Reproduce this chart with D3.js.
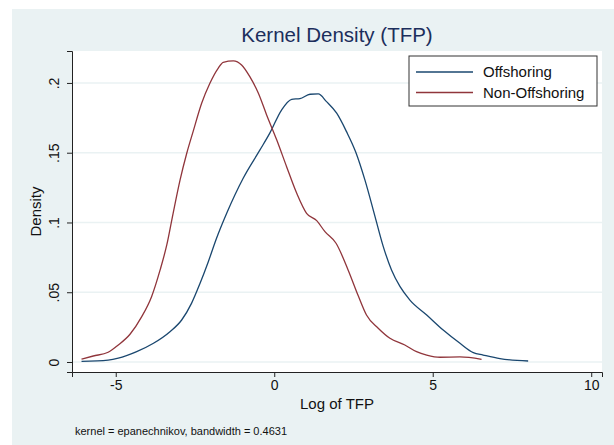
<!DOCTYPE html>
<meta charset="utf-8">
<style>
body { margin: 0; background: #fff; }
text { font-family: "Liberation Sans", Arial, sans-serif; }
</style>
<svg width="614" height="445"></svg>
<script src="https://d3js.org/d3.v7.min.js"></script>
<script>

// Offshoring density (x = log TFP, y = density)
var offX = [-6.08, -5.24, -4.92, -4.34, -3.81, -3.29, -2.92, -2.61, -2.34, -2.08, -1.82, -1.5, -0.98, -0.45, -0.14, 0.23, 0.55, 0.81, 1.13, 1.39, 1.65, 1.97, 2.28, 2.57, 2.86, 3.18, 3.44, 3.70, 3.97, 4.28, 4.81, 5.33, 5.86, 6.28, 6.59, 7.12, 8.01];
var offY = [0.0005, 0.0014, 0.0027, 0.0074, 0.0134, 0.0217, 0.0301, 0.042, 0.0564, 0.0719, 0.0887, 0.1066, 0.1317, 0.152, 0.164, 0.1806, 0.1883, 0.1888, 0.1919, 0.1921, 0.1866, 0.1783, 0.1651, 0.1505, 0.1305, 0.1042, 0.0827, 0.066, 0.054, 0.0444, 0.0337, 0.0229, 0.0134, 0.0067, 0.005, 0.0024, 0.0007];

// Non-Offshoring density
var nonX = [-6.08, -5.71, -5.24, -4.92, -4.55, -4.18, -3.87, -3.6, -3.39, -3.19, -2.97, -2.76, -2.56, -2.29, -2.03, -1.77, -1.61, -1.29, -1.03, -0.77, -0.5, -0.24, 0.08, 0.39, 0.71, 1.02, 1.34, 1.6, 1.95, 2.33, 2.65, 2.91, 3.28, 3.65, 4.12, 4.49, 4.81, 5.23, 5.86, 6.54];
var nonY = [0.0021, 0.0043, 0.007, 0.0122, 0.0199, 0.0325, 0.0468, 0.066, 0.0839, 0.1066, 0.1305, 0.1496, 0.1651, 0.1854, 0.1998, 0.2105, 0.2148, 0.2158, 0.2129, 0.2045, 0.1926, 0.1771, 0.1591, 0.14, 0.1209, 0.1066, 0.1013, 0.0934, 0.0851, 0.066, 0.0475, 0.0337, 0.0242, 0.017, 0.0122, 0.0074, 0.005, 0.0034, 0.0036, 0.0019];

var xTicks = [-5, 0, 5, 10];
var xTickLabels = ["-5", "0", "5", "10"];
var yTicks = [0, 0.05, 0.1, 0.15, 0.2];
var yTickLabels = ["0", ".05", ".1", ".15", ".2"];
var seriesNames = ["Offshoring", "Non-Offshoring"];
var seriesColors = ["#1a476f", "#90353b"];

var svg = d3.select("svg"),
    margin = {top: 51, right: 12, bottom: 73, left: 72},
    width = +svg.attr("width") - margin.left - margin.right,
    height = +svg.attr("height") - margin.top - margin.bottom;

// stata outer background
svg.append("rect")
    .attr("x", 12).attr("y", 9)
    .attr("width", 602).attr("height", 436)
    .attr("fill", "#eaf2f3");

var g = svg.append("g").attr("transform", "translate(" + margin.left + "," + margin.top + ")");

g.append("rect")
    .attr("width", width).attr("height", height)
    .attr("fill", "#fff");

var x = d3.scaleLinear().domain([-6.38, 10.34]).range([0, width]);
var y = d3.scaleLinear().domain([-0.00717, 0.2229]).range([height, 0]);

// grid
g.selectAll(".grid")
  .data(yTicks)
  .enter().append("line")
    .attr("x1", 0).attr("x2", width)
    .attr("y1", function(d) { return y(d); })
    .attr("y2", function(d) { return y(d); })
    .attr("stroke", "#eaf2f3")
    .attr("stroke-width", 1.5);

var line = d3.line()
    .curve(d3.curveMonotoneX)
    .x(function(d) { return x(d[0]); })
    .y(function(d) { return y(d[1]); });

var series = [d3.zip(offX, offY), d3.zip(nonX, nonY)];

g.selectAll(".series")
  .data(series)
  .enter().append("path")
    .attr("d", line)
    .attr("fill", "none")
    .attr("stroke", function(d, i) { return seriesColors[i]; })
    .attr("stroke-width", 1.3);

// axes
var xAxis = g.append("g")
    .attr("transform", "translate(0," + height + ")")
    .call(d3.axisBottom(x).tickValues(xTicks).tickSize(5).tickPadding(3).tickFormat(function(d, i) { return xTickLabels[i]; }));
xAxis.select(".domain").attr("stroke", "#222");
xAxis.selectAll(".tick line").attr("stroke", "#222");
xAxis.selectAll(".tick text")
    .attr("font-family", "Liberation Sans, Arial, sans-serif")
    .attr("font-size", 14).attr("fill", "#111");

var yAxis = g.append("g")
    .call(d3.axisLeft(y).tickValues(yTicks).tickSize(5).tickFormat(function(d, i) { return yTickLabels[i]; }));
yAxis.select(".domain").attr("stroke", "#222");
yAxis.selectAll(".tick line").attr("stroke", "#222");
yAxis.selectAll(".tick text")
    .attr("font-family", "Liberation Sans, Arial, sans-serif")
    .attr("font-size", 14).attr("fill", "#111")
    .attr("text-anchor", "middle")
    .attr("x", 0).attr("dy", 0)
    .attr("transform", "translate(-13,0) rotate(-90)");

// titles
svg.append("text")
    .attr("x", margin.left + width / 2).attr("y", 42)
    .attr("text-anchor", "middle")
    .attr("font-size", 20.5)
    .attr("fill", "#1c2e5c")
    .text("Kernel Density (TFP)");

svg.append("text")
    .attr("x", margin.left + width / 2).attr("y", 409)
    .attr("text-anchor", "middle")
    .attr("font-size", 15)
    .attr("fill", "#111")
    .text("Log of TFP");

svg.append("text")
    .attr("transform", "translate(41," + (margin.top + height / 2) + ") rotate(-90)")
    .attr("text-anchor", "middle")
    .attr("font-size", 15)
    .attr("fill", "#111")
    .text("Density");

svg.append("text")
    .attr("x", 75).attr("y", 435)
    .attr("font-size", 11)
    .attr("fill", "#111")
    .text("kernel = epanechnikov, bandwidth = 0.4631");

// legend
var legend = svg.append("g").attr("transform", "translate(409,56)");
legend.append("rect")
    .attr("width", 188).attr("height", 50)
    .attr("fill", "#fff")
    .attr("stroke", "#333")
    .attr("stroke-width", 1);

var item = legend.selectAll(".item")
  .data(seriesNames)
  .enter().append("g")
    .attr("transform", function(d, i) { return "translate(0," + (16 + i * 20.5) + ")"; });

item.append("line")
    .attr("x1", 7).attr("x2", 64)
    .attr("stroke", function(d, i) { return seriesColors[i]; })
    .attr("stroke-width", 1.3);

item.append("text")
    .attr("x", 74).attr("y", 5)
    .attr("font-size", 15)
    .attr("fill", "#111")
    .text(function(d) { return d; });

</script>
